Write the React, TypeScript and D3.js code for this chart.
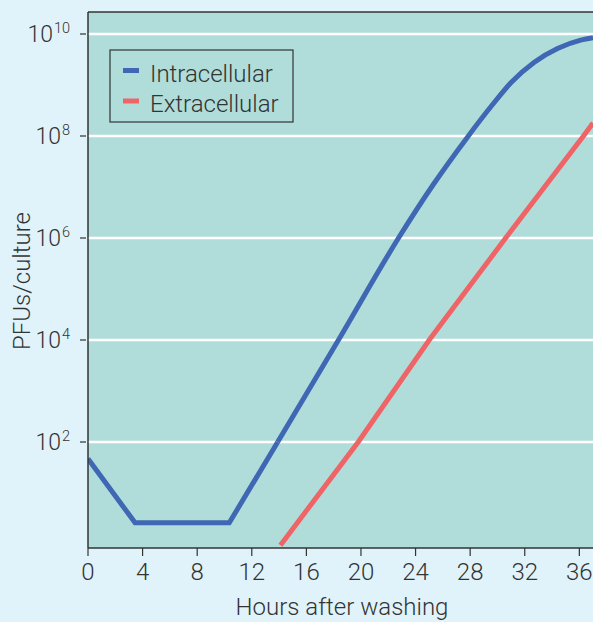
import React from "react";
import * as d3 from "d3";

const hours = [0, 4, 8, 12, 16, 20, 24, 28, 32, 36];
const yTickPowers = [2, 4, 6, 8, 10];
const intraHours = [0, 3.45, 10.35, 13.9, 18.35, 22.75, 25.3, 27.8, 29.6, 31, 32.7, 34.4, 36.1, 37];
const intraPFU = [47, 2.6, 2.6, 100, 1e4, 1e6, 1.12e7, 9.5e7, 4e8, 1.12e9, 2.8e9, 5.2e9, 7.6e9, 8.5e9];
const intraLinearCount = 4; // first points joined by straight segments
const extraHours = [14.1, 19.8, 25, 30.6, 36.3, 37];
const extraPFU = [0.95, 100, 1e4, 1e6, 1e8, 1.8e8];
const legendLabels = ["Intracellular", "Extracellular"];

const W = 593, H = 622;
const left = 88, top = 12, bottom = 548, right = 593;
const BLUE = "#3f67b4", RED = "#ef6467";
const FONT = "Roboto, 'Liberation Sans', Arial, sans-serif";
const FW = 300;
const FS = 24;

export default function App() {
  const x = d3.scaleLinear().domain([0, 37]).range([left, right]);
  const y = d3.scaleLog().domain([Math.pow(10, -4 / 51), Math.pow(10, 532 / 51)]).range([bottom, top]);

  const ptsIntra = intraHours.map((h, i) => [h, intraPFU[i]] as [number, number]);
  const lineLin = d3.line<[number, number]>().x(d => x(d[0])).y(d => y(d[1])).curve(d3.curveLinear);
  const lineMono = d3.line<[number, number]>().x(d => x(d[0])).y(d => y(d[1])).curve(d3.curveMonotoneX);
  const intraA = lineLin(ptsIntra.slice(0, intraLinearCount)) || "";
  const intraB = lineMono(ptsIntra.slice(intraLinearCount - 1)) || "";
  const ptsExtra = extraHours.map((h, i) => [h, extraPFU[i]] as [number, number]);
  const extraD = lineLin(ptsExtra) || "";

  return (
    <svg width={W} height={H} style={{ position: "absolute", left: 0, top: 0, display: "block" }} fontFamily={FONT} fontWeight={FW}>
      <defs>
        <clipPath id="plotclip">
          <rect x={left} y={top} width={right - left} height={bottom - top} />
        </clipPath>
      </defs>
      <rect x={0} y={0} width={W} height={H} fill="#e0f3fa" />
      <rect x={left} y={top} width={right - left} height={bottom - top} fill="#b0ddd9" />
      {yTickPowers.map(p => (
        <g key={p}>
          <line x1={left} x2={right} y1={y(Math.pow(10, p))} y2={y(Math.pow(10, p))} stroke="#ffffff" strokeWidth={2.5} />
          <line x1={80} x2={86} y1={y(Math.pow(10, p))} y2={y(Math.pow(10, p))} stroke="#333" strokeWidth={1.2} />
          <text x={p >= 10 ? 53 : 61} y={y(Math.pow(10, p)) + 8} textAnchor="end" fontSize={23} fill="#333">10</text>
          <text x={p >= 10 ? 54 : 62} y={y(Math.pow(10, p)) - 1} textAnchor="start" fontSize={14.5} fill="#333">{p}</text>
        </g>
      ))}
      <g clipPath="url(#plotclip)" fill="none" strokeWidth={5} strokeLinejoin="miter">
        <path d={intraA} stroke={BLUE} />
        <path d={intraB} stroke={BLUE} />
        <path d={extraD} stroke={RED} />
      </g>
      <line x1={left} x2={right} y1={top} y2={top} stroke="#333" strokeWidth={1.5} />
      <line x1={left} x2={left} y1={top} y2={bottom} stroke="#333" strokeWidth={1.5} />
      <line x1={left} x2={right} y1={bottom} y2={bottom} stroke="#333" strokeWidth={1.5} />
      {hours.map(h => (
        <g key={h}>
          <line x1={x(h)} x2={x(h)} y1={bottom} y2={556} stroke="#333" strokeWidth={1.2} />
          <text x={x(h)} y={580} textAnchor="middle" fontSize={FS} fill="#333">{h}</text>
        </g>
      ))}
      <text x={342} y={615} textAnchor="middle" fontSize={FS} fill="#333">Hours after washing</text>
      <text transform="translate(29.5,281) rotate(-90)" textAnchor="middle" fontSize={FS} fill="#333">PFUs/culture</text>
      <rect x={110} y={50} width={183} height={72} fill="none" stroke="#333" strokeWidth={1.2} />
      {legendLabels.map((lab, i) => (
        <g key={lab}>
          <line x1={123} x2={139} y1={70.5 + i * 30.5} y2={70.5 + i * 30.5} stroke={i === 0 ? BLUE : RED} strokeWidth={5} />
          <text x={150} y={81.5 + i * 30.5} fontSize={FS} fill="#333">{lab}</text>
        </g>
      ))}
    </svg>
  );
}
